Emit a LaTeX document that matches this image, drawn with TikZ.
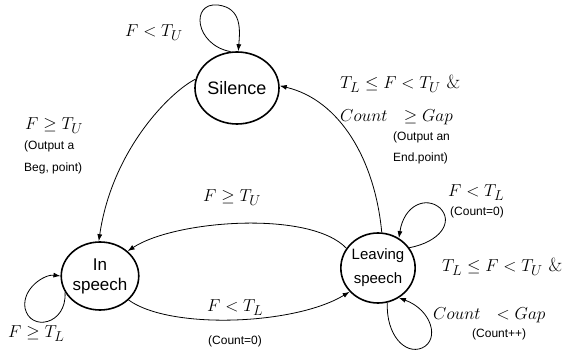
\documentclass[tikz,border=0pt]{standalone}
\usepackage{fontspec}
\setsansfont{Liberation Sans}
\usetikzlibrary{arrows.meta,shapes.geometric}
\begin{document}
\begin{tikzpicture}[x=1pt,y=-1pt,
 state/.style={draw,ellipse,line width=1.6pt,inner sep=0pt,align=center},
 conn/.style={line width=0.8pt,-{Latex[length=7pt,width=5pt]}},
 ml/.style={font=\fontsize{19}{24}\selectfont,inner sep=0pt,anchor=base west},
 sl/.style={font=\sffamily\fontsize{12}{15}\selectfont,inner sep=0pt,anchor=base west}]
\useasboundingbox (0,0) rectangle (587,352);
% states
\node[state,minimum width=84pt,minimum height=72pt,font=\sffamily\fontsize{18}{20}\selectfont] (sil) at (237,88) {Silence};
\node[state,minimum width=70pt,minimum height=68pt,font=\sffamily\fontsize{17}{20}\selectfont] (ins) at (100,276) {In\\speech};
\node[state,minimum width=74pt,minimum height=70pt,font=\sffamily\fontsize{15}{24}\selectfont] (lea) at (378,268) {Leaving\\speech};
% connectors
\draw[conn] (sil.168) .. controls (170,92) and (112,150) .. (ins.92);
\draw[conn] (lea.84) .. controls (375,160) and (340,100) .. (sil.3);
\draw[conn] (lea.148) .. controls (310,210) and (175,220) .. (ins.42);
\draw[conn] (ins.-40) .. controls (170,330) and (295,325) .. (lea.-140);
% self loops
\draw[conn] (sil.100) .. controls (195,45) and (190,2) .. (218,5) .. controls (242,8) and (240,30) .. (sil.88);
\draw[conn] (ins.205) .. controls (67,325) and (30,332) .. (25,308) .. controls (22,288) and (45,274) .. (ins.180);
\draw[conn] (lea.33) .. controls (440,242) and (454,222) .. (440,208) .. controls (426,196) and (404,205) .. (lea.55);
\draw[conn] (lea.-75) .. controls (386,335) and (405,355) .. (422,348) .. controls (440,340) and (432,310) .. (lea.-55);
% labels
\node[ml] (t1) at (125,37) {$F<T_U$};
\node[ml] (t2) at (25,130) {$F\geq T_U$};
\node[sl] (t3) at (24,150) {(Output a};
\node[sl] (t4) at (24,172) {Beg, point)};
\node[ml] (t5) at (340,89) {$T_L\leq F<T_U$ \&};
\node[ml] (t6) at (340,122) {$Count\ \ \geq Gap$};
\node[sl] (t7) at (393,141) {(Output an};
\node[sl] (t8) at (393,162) {End.point)};
\node[ml] (t9) at (203,202) {$F\geq T_U$};
\node[ml] (t10) at (207,312) {$F<T_L$};
\node[sl] (t11) at (208,345) {(Count=0)};
\node[ml] (t12) at (8,338) {$F\geq T_L$};
\node[ml] (t13) at (448,197) {$F<T_L$};
\node[sl] (t14) at (450,216) {(Count=0)};
\node[ml] (t15) at (442,272) {$T_L\leq F<T_U$ \&};
\node[ml] (t16) at (433,320) {$Count\ \ <Gap$};
\node[sl] (t17) at (472,338) {(Count++)};
\end{tikzpicture}
\end{document}
